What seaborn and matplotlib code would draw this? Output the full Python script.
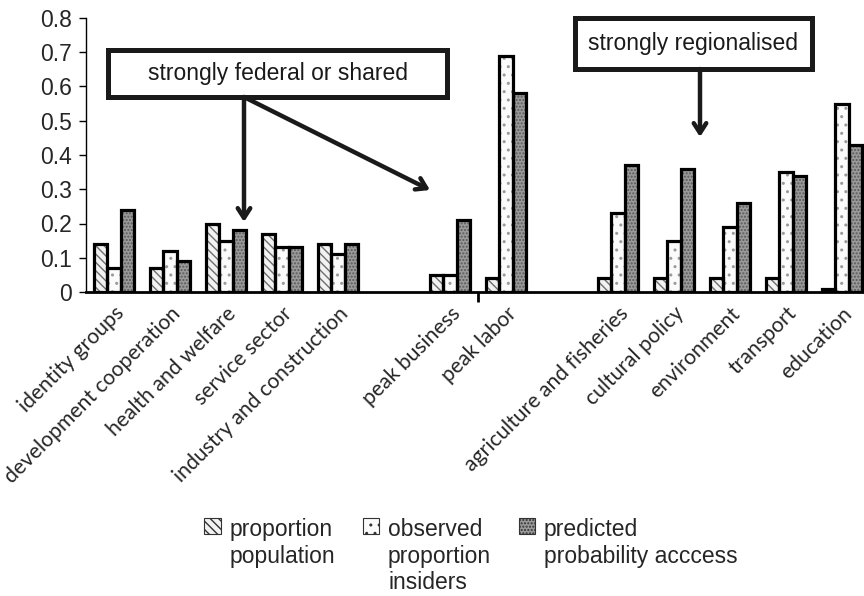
import matplotlib
matplotlib.use('Agg')
import matplotlib.pyplot as plt
import matplotlib.patches as mpatches
import pandas as pd
import seaborn as sns

# categories (two blank slots separate the three groups)
categories = ["identity groups", "development cooperation", "health and welfare",
              "service sector", "industry and construction",
              "peak business", "peak labor",
              "agriculture and fisheries", "cultural policy", "environment",
              "transport", "education"]
order = categories[:5] + [" "] + categories[5:7] + ["  "] + categories[7:]

series_names = ["proportion\npopulation",
                "observed\nproportion\ninsiders",
                "predicted\nprobability acccess"]

proportion_population = [0.14, 0.07, 0.20, 0.17, 0.14, 0.05, 0.04, 0.04, 0.04, 0.04, 0.04, 0.01]
observed_insiders = [0.07, 0.12, 0.15, 0.13, 0.11, 0.05, 0.69, 0.23, 0.15, 0.19, 0.35, 0.55]
predicted_access = [0.24, 0.09, 0.18, 0.13, 0.14, 0.21, 0.58, 0.37, 0.36, 0.26, 0.34, 0.43]

y_ticks = [0, 0.1, 0.2, 0.3, 0.4, 0.5, 0.6, 0.7, 0.8]
y_ticklabels = ["0", "0.1", "0.2", "0.3", "0.4", "0.5", "0.6", "0.7", "0.8"]

df = pd.DataFrame({
    'category': categories * 3,
    'series': [series_names[0]] * 12 + [series_names[1]] * 12 + [series_names[2]] * 12,
    'value': proportion_population + observed_insiders + predicted_access,
})

face_colors = ['#f2f2f2', '#fbfbfb', '#9a9a9a']
hatches = ['\\\\\\\\', '..', '.....']
hatch_colors = ['#6e6e6e', '#9a9a9a', '#5a5a5a']

sns.set_style('ticks')
plt.rcParams['font.family'] = ['Liberation Sans', 'DejaVu Sans']
plt.rcParams['hatch.linewidth'] = 1.0

fig = plt.figure(figsize=(8.64, 5.96), dpi=100)
ax = fig.add_axes([0.0995, 0.51, 0.9075, 0.46])

# pass 1: hatched fills
sns.barplot(data=df, x='category', y='value', hue='series', order=order,
            hue_order=series_names, palette=face_colors, width=0.72,
            errorbar=None, linewidth=0, legend=False, ax=ax)
for cont, h, hc in zip(ax.containers, hatches, hatch_colors):
    for bar in cont:
        bar.set_hatch(h)
        bar.set_edgecolor(hc)
        bar.set_linewidth(0)

# pass 2: black outlines
sns.barplot(data=df, x='category', y='value', hue='series', order=order,
            hue_order=series_names, palette=['black'] * 3, width=0.72,
            errorbar=None, fill=False, linewidth=2.3, legend=False, ax=ax)

ax.set_xlim(-0.5, 13.5)
ax.set_ylim(0, 0.8)
ax.set_yticks(y_ticks, y_ticklabels, fontsize=16.5)
ax.set_xticks(range(len(order)), order, rotation=45, ha='right',
              rotation_mode='anchor', fontsize=15.2, family=['Lato', 'DejaVu Sans'])
ax.set_xticks([6.5], minor=True)
ax.tick_params(axis='x', which='major', length=0, pad=8)
ax.tick_params(axis='x', which='minor', length=7, width=2, direction='out', color='black')
ax.tick_params(axis='y', length=5, width=1, pad=5, color='black')
ax.set_xlabel('')
ax.set_ylabel('')
sns.despine(ax=ax)
ax.spines['left'].set_linewidth(1)
ax.spines['left'].set_color('black')
ax.spines['bottom'].set_linewidth(2)
ax.spines['bottom'].set_color('black')

# annotation boxes and arrows (figure pixel positions)
W, H = 864, 596


def fx(px):
    return px / W


def fy(py):
    return 1 - py / H


for (x0, x1, y0, y1, txt) in [(108, 447, 50, 97, "strongly federal or shared"),
                              (575, 812, 18, 69, "strongly regionalised")]:
    fig.patches.append(mpatches.Rectangle((fx(x0), fy(y1)), fx(x1) - fx(x0), fy(y0) - fy(y1),
                                          transform=fig.transFigure, fill=False,
                                          edgecolor='#1a1a1a', linewidth=3.6))
    fig.text(fx((x0 + x1) / 2), fy((y0 + y1) / 2), txt, ha='center', va='center',
             fontsize=16.5, color='#1a1a1a')

arrow_style = dict(arrowstyle='->,head_length=0.7,head_width=0.45', lw=3.2, color='#1a1a1a',
                   shrinkA=0, shrinkB=0)
for start, end in [((244, 97), (244, 222)), ((244, 97), (430, 190)), ((700, 69), (700, 137))]:
    ax.annotate('', xy=(fx(end[0]), fy(end[1])), xycoords='figure fraction',
                xytext=(fx(start[0]), fy(start[1])), textcoords='figure fraction',
                arrowprops=arrow_style)

handles = [mpatches.Patch(facecolor=fc, edgecolor='#333333', hatch=h, linewidth=0.8)
           for fc, h in zip(face_colors, hatches)]
leg = fig.legend(handles, series_names, loc='upper center', bbox_to_anchor=(fx(471), fy(518)),
                 ncol=3, frameon=False, fontsize=16.5, handlelength=0.7, handleheight=0.7,
                 handletextpad=0.4, columnspacing=1.2, borderpad=0, borderaxespad=0)
# top-align the multi-line entries, handle beside the first line
hbox = leg._legend_handle_box
hbox.align = 'top'
for col in hbox.get_children():
    for item in col.get_children():
        item.align = 'center'
        item.align = 'top'

fig.savefig('out.png', dpi=100)
